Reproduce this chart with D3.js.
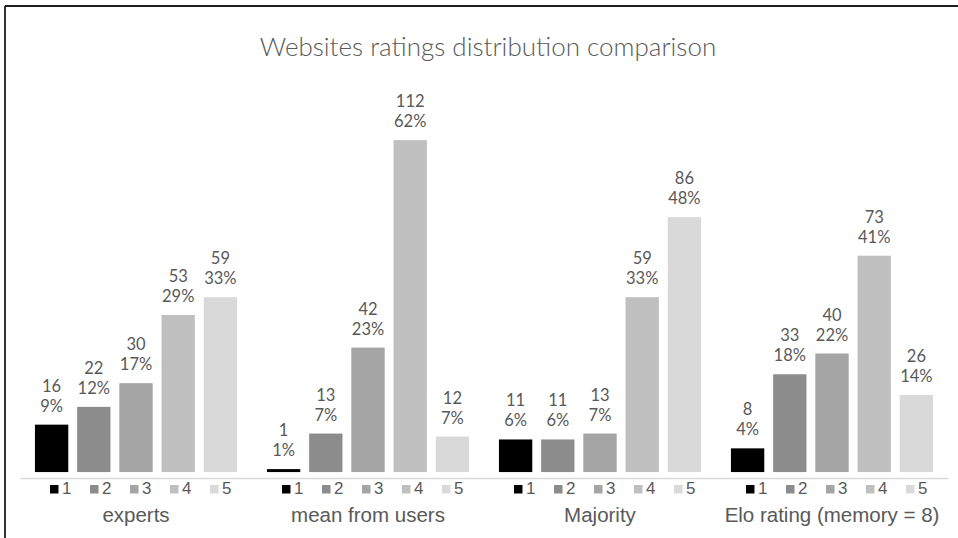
<!DOCTYPE html>
<html>
<head>
<meta charset="utf-8">
<script src="https://cdn.jsdelivr.net/npm/d3@7"></script>
<style>
  body { margin: 0; background: #fff; }
  svg { display: block; }
</style>
</head>
<body>
<svg id="chart"></svg>
<script>
const groups = ['experts', 'mean from users', 'Majority', 'Elo rating (memory = 8)'];
const ratings = ['1', '2', '3', '4', '5'];
const experts = [16, 22, 30, 53, 59];
const meanFromUsers = [1, 13, 42, 112, 12];
const majority = [11, 11, 13, 59, 86];
const eloRating = [8, 33, 40, 73, 26];
const expertsPct = ['9%', '12%', '17%', '29%', '33%'];
const meanFromUsersPct = ['1%', '7%', '23%', '62%', '7%'];
const majorityPct = ['6%', '6%', '7%', '33%', '48%'];
const eloRatingPct = ['4%', '18%', '22%', '41%', '14%'];

const counts = [experts, meanFromUsers, majority, eloRating];
const pcts = [expertsPct, meanFromUsersPct, majorityPct, eloRatingPct];

const width = 958;
const height = 538;
const colors = ['#000000', '#8c8c8c', '#a5a5a5', '#bfbfbf', '#d9d9d9'];
const textColor = '#595959';

const svg = d3.select('#chart').attr('width', width).attr('height', height);

// frame (only top and left edges show in the picture)
svg.append('line')
  .attr('x1', 5).attr('y1', 6).attr('x2', width).attr('y2', 6)
  .attr('stroke', '#1e1e1e').attr('stroke-width', 1.8);
svg.append('line')
  .attr('x1', 5).attr('y1', 6).attr('x2', 5).attr('y2', height)
  .attr('stroke', '#1e1e1e').attr('stroke-width', 1.8);

svg.append('text')
  .attr('x', 488)
  .attr('y', 56)
  .attr('text-anchor', 'middle')
  .style('font-family', 'Lato, "Open Sans", sans-serif')
  .style('font-size', '26px')
  .style('font-weight', 300)
  .style('fill', textColor)
  .text('Websites ratings distribution comparison');

const xGroup = d3.scaleBand().domain(groups).range([20, 948]).padding(0);
const xBar = d3.scaleBand()
  .domain(ratings)
  .range([0, xGroup.bandwidth()])
  .paddingInner(0.21)
  .paddingOuter(0.354);
const y = d3.scaleLinear().domain([-2, 120]).range([478, 116.4]);

const data = [];
groups.forEach((g, gi) => {
  ratings.forEach((r, ri) => {
    data.push({ group: g, rating: r, ri: ri, value: counts[gi][ri], pct: pcts[gi][ri] });
  });
});

svg.append('g')
  .selectAll('rect')
  .data(data)
  .enter()
  .append('rect')
  .attr('x', (d) => xGroup(d.group) + xBar(d.rating))
  .attr('y', (d) => y(d.value))
  .attr('width', xBar.bandwidth())
  .attr('height', (d) => y(0) - y(d.value))
  .style('fill', (d) => colors[d.ri]);

const labels = svg.append('g')
  .style('font-family', 'Lato, "Open Sans", sans-serif')
  .style('font-size', '16.5px')
  .style('fill', textColor)
  .attr('text-anchor', 'middle');

labels.selectAll('.count')
  .data(data)
  .enter()
  .append('text')
  .attr('class', 'count')
  .attr('x', (d) => xGroup(d.group) + xBar(d.rating) + xBar.bandwidth() / 2)
  .attr('y', (d) => y(d.value) - 33)
  .text((d) => d.value);

labels.selectAll('.pct')
  .data(data)
  .enter()
  .append('text')
  .attr('class', 'pct')
  .attr('x', (d) => xGroup(d.group) + xBar(d.rating) + xBar.bandwidth() / 2)
  .attr('y', (d) => y(d.value) - 13)
  .text((d) => d.pct);

// category axis
const xAxis = d3.axisBottom(xGroup).tickSize(0).tickFormat('');
const axisG = svg.append('g')
  .attr('transform', 'translate(0,' + y(-2) + ')')
  .call(xAxis);
axisG.select('.domain').attr('stroke', '#d9d9d9').attr('stroke-width', 1.3);

// per-group legend keys
const legendStep = 40;
groups.forEach((g, gi) => {
  const startX = xGroup(g) + xGroup.bandwidth() / 2 - 86;
  const leg = svg.append('g').attr('transform', 'translate(' + startX + ',0)');
  ratings.forEach((r, ri) => {
    leg.append('rect')
      .attr('x', ri * legendStep)
      .attr('y', 485)
      .attr('width', 8.5)
      .attr('height', 8.5)
      .style('fill', colors[ri]);
    leg.append('text')
      .attr('x', ri * legendStep + 12)
      .attr('y', 494)
      .style('font-family', '"Liberation Sans", Arial, sans-serif')
      .style('font-size', '17px')
      .style('fill', textColor)
      .text(r);
  });
});

svg.append('g')
  .selectAll('text')
  .data(groups)
  .enter()
  .append('text')
  .attr('x', (d) => xGroup(d) + xGroup.bandwidth() / 2)
  .attr('y', 522)
  .attr('text-anchor', 'middle')
  .style('font-family', '"Liberation Sans", Arial, sans-serif')
  .style('font-size', '20.5px')
  .style('fill', textColor)
  .text((d) => d);
</script>
</body>
</html>
